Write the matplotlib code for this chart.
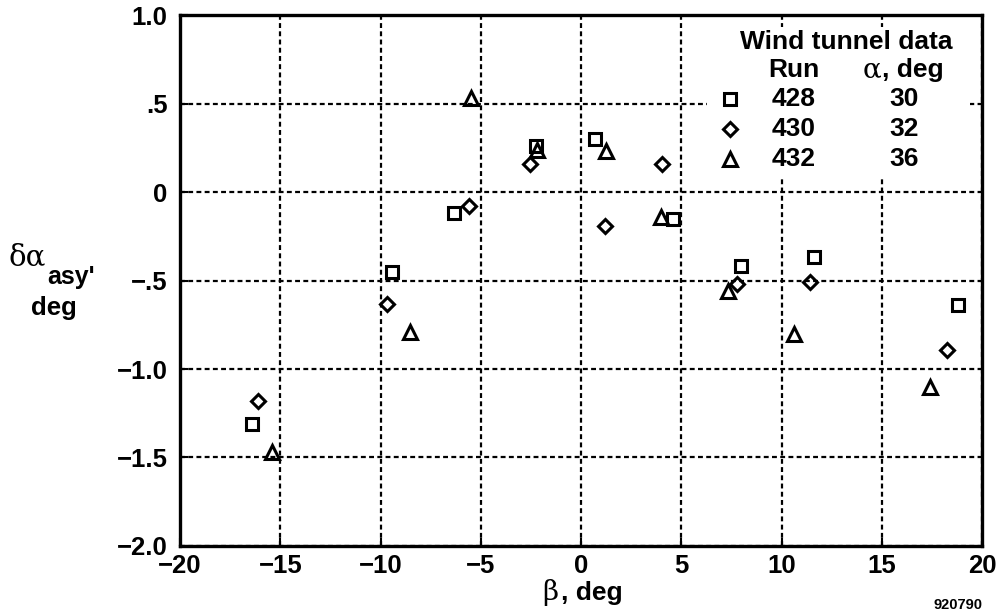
"""Asymmetric angle-of-attack offset versus sideslip, wind tunnel runs 428/430/432."""

import matplotlib.pyplot as plt
from matplotlib.patches import Rectangle

# Run 428, alpha = 30 deg
beta_428 = [-16.4, -9.45, -6.35, -2.25, 0.7, 4.6, 7.95, 11.6, 18.8]
dalpha_428 = [-1.31, -0.45, -0.12, 0.26, 0.30, -0.15, -0.42, -0.37, -0.64]

# Run 430, alpha = 32 deg
beta_430 = [-16.1, -9.7, -5.6, -2.55, 1.2, 4.05, 7.75, 11.4, 18.25]
dalpha_430 = [-1.18, -0.63, -0.08, 0.16, -0.19, 0.16, -0.52, -0.51, -0.89]

# Run 432, alpha = 36 deg
beta_432 = [-15.4, -8.55, -5.5, -2.2, 1.25, 4.0, 7.3, 10.6, 17.4]
dalpha_432 = [-1.47, -0.79, 0.53, 0.24, 0.23, -0.14, -0.56, -0.80, -1.10]

runs = ["428", "430", "432"]
run_alpha = ["30", "32", "36"]

x_ticks = [-20, -15, -10, -5, 0, 5, 10, 15, 20]
x_tick_labels = ["\u221220", "\u221215", "\u221210", "\u22125", "0", "5", "10", "15", "20"]
y_ticks = [-2.0, -1.5, -1.0, -0.5, 0.0, 0.5, 1.0]
y_tick_labels = ["\u22122.0", "\u22121.5", "\u22121.0", "\u2212.5", "0", ".5", "1.0"]

FONT = "Liberation Sans"
GREEK = "DejaVu Serif"
plt.rcParams["font.family"] = [FONT, "DejaVu Sans"]

fig = plt.figure(figsize=(9.99, 6.15), dpi=100)
ax = fig.add_axes([0.1802, 0.1122, 0.803, 0.8634])

marker_kw = dict(linestyle="none", markerfacecolor="none", markeredgecolor="black",
                 markeredgewidth=2.2, zorder=5, clip_on=False)
styles = [("s", 8.5), ("D", 7.5), ("^", 9.5)]
series = [(beta_428, dalpha_428), (beta_430, dalpha_430), (beta_432, dalpha_432)]
for (mk, ms), (xs, ys) in zip(styles, series):
    ax.plot(xs, ys, marker=mk, markersize=ms, **marker_kw)

ax.set_xlim(-20, 20)
ax.set_ylim(-2.0, 1.0)
ax.set_xticks(x_ticks)
ax.set_xticklabels(x_tick_labels)
ax.set_yticks(y_ticks)
ax.set_yticklabels(y_tick_labels)
ax.tick_params(direction="in", length=6, width=1.5, labelsize=18.5)
ax.tick_params(axis="x", pad=6)
ax.tick_params(axis="y", pad=9)
for lbl in ax.get_xticklabels() + ax.get_yticklabels():
    lbl.set_fontweight("bold")
    lbl.set_family(FONT)

ax.grid(True, color="black", linestyle=(0, (2.2, 1.5)), linewidth=1.6)
for sp in ax.spines.values():
    sp.set_linewidth(2.4)

# blank panel behind the run table so the grid does not show through
ax.add_patch(Rectangle((6.3, 0.09), 13.1, 0.84, facecolor="white",
                       edgecolor="none", zorder=3))

txt = dict(fontsize=19, fontweight="bold", family=FONT, zorder=6,
           va="center")
ax.text(13.2, 0.85, "Wind tunnel data", ha="center", **txt)
ax.text(10.6, 0.69, "Run", ha="center", **txt)
ax.text(14.05, 0.69, "\u03b1", ha="left", va="center", fontsize=20,
        family=GREEK, zorder=6)
ax.text(15.0, 0.69, ", deg", ha="left", **txt)
row_y = [0.525, 0.355, 0.185]
for (mk, ms), run, a, yy in zip(styles, runs, run_alpha, row_y):
    ax.plot([7.4], [yy], marker=mk, markersize=ms, **marker_kw)
    ax.text(10.6, yy, run, ha="center", **txt)
    ax.text(16.1, yy, a, ha="center", **txt)

# axis titles
fig.text(0.009, 0.582, "\u03b4\u03b1", fontsize=21, family=GREEK,
         ha="left", va="center")
fig.text(0.047, 0.549, "asy'", fontsize=18, fontweight="bold", family=FONT,
         ha="left", va="center")
fig.text(0.054, 0.500, "deg", fontsize=18.5, fontweight="bold", family=FONT,
         ha="center", va="center")

fig.text(0.543, 0.036, "\u03b2", fontsize=20, family=GREEK,
         ha="left", va="center")
fig.text(0.562, 0.036, ", deg", fontsize=19, fontweight="bold", family=FONT,
         ha="left", va="center")

fig.text(0.983, 0.016, "920790", fontsize=10.5, fontweight="bold", family=FONT,
         ha="right", va="center")

fig.savefig("out.png", dpi=100)
